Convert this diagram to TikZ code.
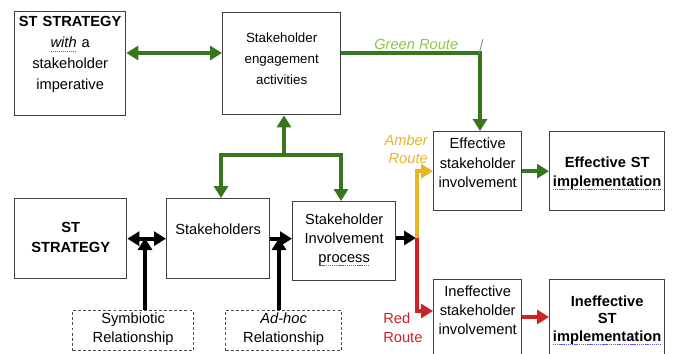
\documentclass[tikz,border=0pt]{standalone}
\usepackage{fontspec}
\setmainfont{Liberation Sans}
\usetikzlibrary{arrows.meta,calc}
\definecolor{kgreen}{RGB}{56,118,29}
\definecolor{lgreen}{RGB}{141,198,63}
\definecolor{amber}{RGB}{231,182,38}
\definecolor{rred}{RGB}{207,34,39}
\definecolor{spellblue}{RGB}{90,90,230}
\newsavebox{\spellbox}
\newcommand{\spellmark}[1]{\leavevmode\sbox{\spellbox}{#1}%
  \rlap{\raisebox{-0.45ex}{\hbox to\wd\spellbox{\color{spellblue}\xleaders\hbox{\rule{0.9pt}{0.45pt}\kern0.5pt}\hfill}}}%
  \usebox{\spellbox}}
\tikzset{
  box/.style={draw=black!75, line width=1pt, inner sep=0pt, align=center, anchor=north west,
              font=\fontsize{11}{15.75}\selectfont},
  dbox/.style={box, draw=black!70, line width=0.9pt, dash pattern=on 2.2pt off 1.6pt},
  arr/.style={line width=3pt, -{Triangle[length=9pt,width=10.5pt]}},
  darr/.style={line width=3pt, {Triangle[length=9pt,width=10.5pt]}-{Triangle[length=9pt,width=10.5pt]}},
  garr/.style={arr, draw=kgreen},
  karr/.style={arr, draw=black},
  aarr/.style={arr, draw=amber},
  rarr/.style={arr, draw=rred},
  routelabel/.style={inner sep=0pt, font=\fontsize{11}{13.5}\selectfont\itshape}
}
\begin{document}
\begin{tikzpicture}[x=0.75pt,y=-0.75pt]
\useasboundingbox (0,0) rectangle (673,353);
\fill[white] (0,0) rectangle (673,353);
\clip (0,0) rectangle (673,353);

% boxes
\node[box, text width=83.25pt, text height=11.25pt, text depth=66.75pt] (A) at (14,11)
  {\textbf{ST STRATEGY}\\\spellmark{\textit{with}} a\\stakeholder\\imperative};
\node[box, text width=88.5pt, text height=22.5pt, text depth=54pt,
      font=\fontsize{10}{15.75}\selectfont] (B) at (222,12)
  {Stakeholder\\engagement\\activities};
\node[box, text width=84pt, text height=25.5pt, text depth=34.5pt,
      font=\fontsize{11}{14.6}\selectfont\bfseries] (C) at (14,198)
  {ST\\STRATEGY};
\node[box, text width=77.25pt, text height=27pt, text depth=33pt] (D) at (166,198)
  {Stakeholders};
\node[box, text width=77.25pt, text height=17.25pt, text depth=42pt,
      font=\fontsize{11}{14}\selectfont] (E) at (292,201)
  {Stakeholder\\Involvement\\\spellmark{process}};
\node[box, text width=66pt, text height=12.75pt, text depth=46.5pt,
      font=\fontsize{11}{14.6}\selectfont] (F) at (433,131)
  {Effective\\stakeholder\\involvement};
\node[box, text width=86.25pt, text height=27pt, text depth=32.25pt,
      font=\fontsize{11}{14}\selectfont\bfseries] (G) at (549,131)
  {Effective ST\\\spellmark{implementation}};
\node[box, text width=66pt, text height=12.75pt, text depth=48pt,
      font=\fontsize{11}{14}\selectfont] (H) at (433,279)
  {Ineffective\\stakeholder\\involvement};
\node[box, text width=86.25pt, text height=20.25pt, text depth=40.5pt,
      font=\fontsize{11}{12.9}\selectfont\bfseries] (I) at (549,279)
  {Ineffective\\ST\\\spellmark{implementation}};
\node[dbox, text width=90.75pt, text height=9.75pt, text depth=20.25pt,
      font=\fontsize{11}{14.25}\selectfont] (S) at (72,310)
  {Symbiotic\\Relationship};
\node[dbox, text width=87pt, text height=9.75pt, text depth=20.25pt,
      font=\fontsize{11}{14.25}\selectfont] (H2) at (225,310)
  {\textit{Ad-hoc}\\Relationship};

% helper coordinates
\coordinate (gr) at (480,53);
\coordinate (gj) at (284,155);
\coordinate (gl1) at (221,155);
\coordinate (gr1) at (341,155);
\coordinate (J) at (417,238);
\coordinate (rr) at (417,311);
\coordinate (ri) at (535,317);
\coordinate (sj) at (145,238);
\coordinate (aj) at (279,238);

% green connectors
\draw[darr, draw=kgreen] (A.east |- gr) -- (B.west |- gr);
\draw[garr] (B.east |- gr) -- (gr) -- (gr |- F.north);
\draw[gray, line width=0.6pt] ($(gr)+(-1,1)$) -- ($(gr)+(3,-14)$);
\draw[garr] (gj) -- (gj |- B.south);
\draw[garr] (gj) -- (gl1) -- (gl1 |- D.north);
\draw[garr] (gj) -- (gr1) -- (gr1 |- E.north);
\draw[garr] (F.east) -- (G.west);

% black connectors
\draw[darr] (C.east) -- (D.west);
\draw[karr] (sj |- S.north) -- (sj);
\draw[karr] (D.east) -- (D.east -| E.west);
\draw[karr] (aj |- H2.north) -- (aj);
\draw[karr] (E.east |- J) -- ($(J)+(-1,0)$);

% amber and red routes
\draw[aarr] (J) -- (J |- F.west) -- (F.west);
\draw[rarr] (J) -- (rr) -- (H.west |- rr);
\draw[rarr] (H.east |- ri) -- (I.west |- ri);

% route labels (base = last line)
\node[routelabel, text=lgreen, anchor=base west] (gl) at (374,50) {Green Route};
\node[routelabel, text=amber, anchor=base east, align=right] (al) at (428,163) {Amber\\Route};
\node[routelabel, text=rred, anchor=base west, align=left, font=\fontsize{11}{14.25}\selectfont] (rl) at (383,342) {Red\\Route};
\end{tikzpicture}
\end{document}
